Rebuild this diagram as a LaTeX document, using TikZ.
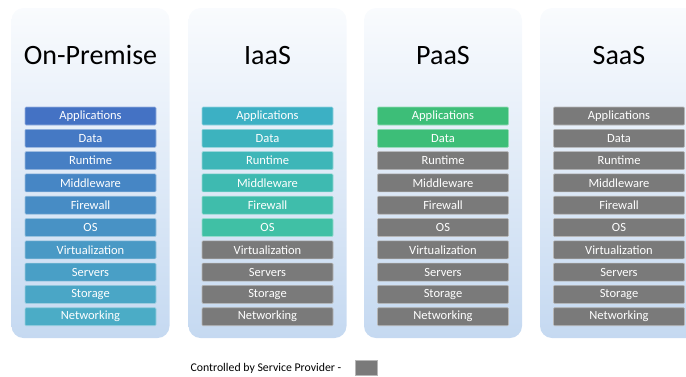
\documentclass[tikz,border=0pt]{standalone}
\usepackage{fontspec}
\setmainfont{Carlito}
\usepackage{tikz}
\usetikzlibrary{positioning,calc}
\definecolor{panelblue}{RGB}{197,217,241}
\definecolor{opblue}{RGB}{68,114,196}
\definecolor{opteal}{RGB}{75,172,198}
\definecolor{iaastop}{RGB}{60,176,196}
\definecolor{iaasbot}{RGB}{64,192,165}
\definecolor{paasgreen}{RGB}{61,190,120}
\definecolor{provgray}{RGB}{122,122,122}

\begin{document}
\begin{tikzpicture}[x=1pt,y=-1pt,node distance=6pt,
    panel/.style={rectangle,rounded corners=12pt,top color=panelblue!10!white,bottom color=panelblue,minimum width=158pt,minimum height=330pt},
    layer/.style={rectangle,rounded corners=1pt,minimum width=131pt,minimum height=18pt,inner sep=0pt,line width=0.6pt,text=white,font=\fontsize{12.5}{12.5}\selectfont},
    title/.style={anchor=base,font=\fontsize{28}{28}\selectfont}]
    \useasboundingbox (0,0) rectangle (686,376);

    % Columns: name / centre / title / owned layers / colour top / colour bottom
    \foreach \col/\cx/\ttl/\own/\ctop/\cbot in {op/90.5/On-Premise/10/opblue/opteal,
        iaas/267.5/IaaS/6/iaastop/iaasbot,
        paas/443/PaaS/2/paasgreen/paasgreen,
        saas/619/SaaS/0/provgray/provgray}{
      \node[panel] (\col panel) at (\cx,173) {};
      \node[title] (\col title) at (\cx,64) {\ttl};
      % Stack of layers
      \foreach \lay [count=\i] in {Applications,Data,Runtime,Middleware,Firewall,OS,Virtualization,Servers,Storage,Networking}{
        \pgfmathtruncatemacro\mix{100*(\own-\i)/max(\own-1,1)}
        \ifnum\i>\own \def\lc{provgray}\else \def\lc{\ctop!\mix!\cbot}\fi
        \node[layer,fill=\lc,draw=\lc!55!white] (\col\i) at (\cx,{116+(\i-1)*22.3}) {\lay};
      }
    }

    % Legend
    \node[font=\fontsize{11.8}{11.8}\selectfont,anchor=west] (legend) at (187,368) {Controlled by Service Provider -};
    \node[rectangle,fill=provgray,draw=provgray!55!white,minimum width=22pt,minimum height=15pt,inner sep=0pt,right=10pt of legend] (legendkey) {};
\end{tikzpicture}
\end{document}
